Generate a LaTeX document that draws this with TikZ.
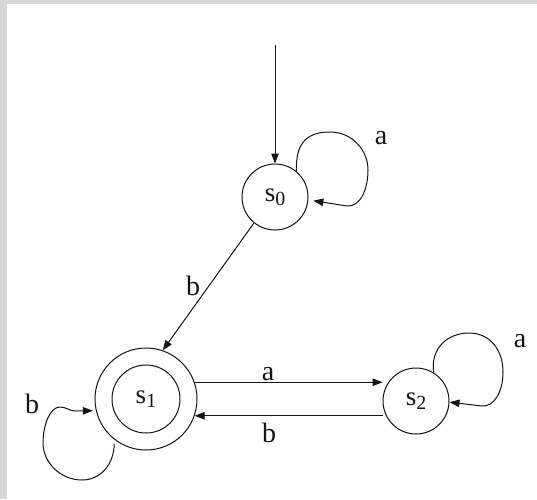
\documentclass[tikz,border=0pt]{standalone}
\usepackage{fontspec}
\setmainfont{Liberation Serif}
\usetikzlibrary{arrows.meta,calc}
\definecolor{framegray}{RGB}{214,214,214}
\definecolor{ink}{RGB}{20,20,20}
\newcommand{\statelabel}[1]{\fontsize{27}{30}\selectfont s\raisebox{-4pt}{\fontsize{20}{22}\selectfont #1}}
\begin{document}
\begin{tikzpicture}[x=1pt,y=-1pt,
  state/.style={draw=ink, circle, inner sep=0pt, line width=1pt, text=ink},
  arr/.style={draw=ink, -{Triangle[length=10pt,width=7.5pt]}, line width=1pt},
  lbl/.style={anchor=base, inner sep=0pt, text=ink, font=\fontsize{28}{31}\selectfont}]
\fill[framegray] (0,0) rectangle (537,499);
\fill[white] (7,4) rectangle (537,499);
\useasboundingbox (0,0) rectangle (537,499);

\node[state, minimum size=66pt] (s0) at (275,197) {\statelabel{0}};
\node[state, minimum size=102pt] (s1) at (146,399) {};
\node[state, minimum size=68pt] (s1in) at (s1) {\statelabel{1}};
\node[state, minimum size=66pt] (s2) at (416,401) {\statelabel{2}};
\coordinate (start) at (275,45);

\draw[arr] (start) -- (s0.north);
\draw[arr] (s0.231) -- (s1.71);
\draw[arr] (s1.19) -- (s1.19 -| s2.west);
\draw[arr] (s1.-19 -| s2.west) -- (s1.-19);

\draw[arr, shorten >=5pt] (s0.50) .. controls (295,140) and (310,132) .. (330,132)
  .. controls (352,132) and (368,150) .. (368,170)
  .. controls (368,190) and (360,207) .. (347,206) -- (s0.-5);

\draw[arr] (s2.58) .. controls (430,348) and (448,333) .. (469,333)
  .. controls (490,333) and (503,350) .. (503,372)
  .. controls (503,392) and (494,407) .. (482,406) -- (s2.-2);

\draw[arr, shorten <=4pt, shorten >=3pt] (s1.232) .. controls (114,465) and (100,480) .. (82,480)
  .. controls (60,480) and (43,462) .. (43,443)
  .. controls (43,425) and (50,407) .. (60,407)
  .. controls (66,407) and (70,411) .. (75,411) -- (s1.193);

\node[lbl] (la0) at (381,144) {a};
\node[lbl] (lb01) at (193,295) {b};
\node[lbl] (la12) at (268,380) {a};
\node[lbl] (lb21) at (269,442) {b};
\node[lbl] (la2) at (520,347) {a};
\node[lbl] (lb1) at (32,413) {b};
\end{tikzpicture}
\end{document}
